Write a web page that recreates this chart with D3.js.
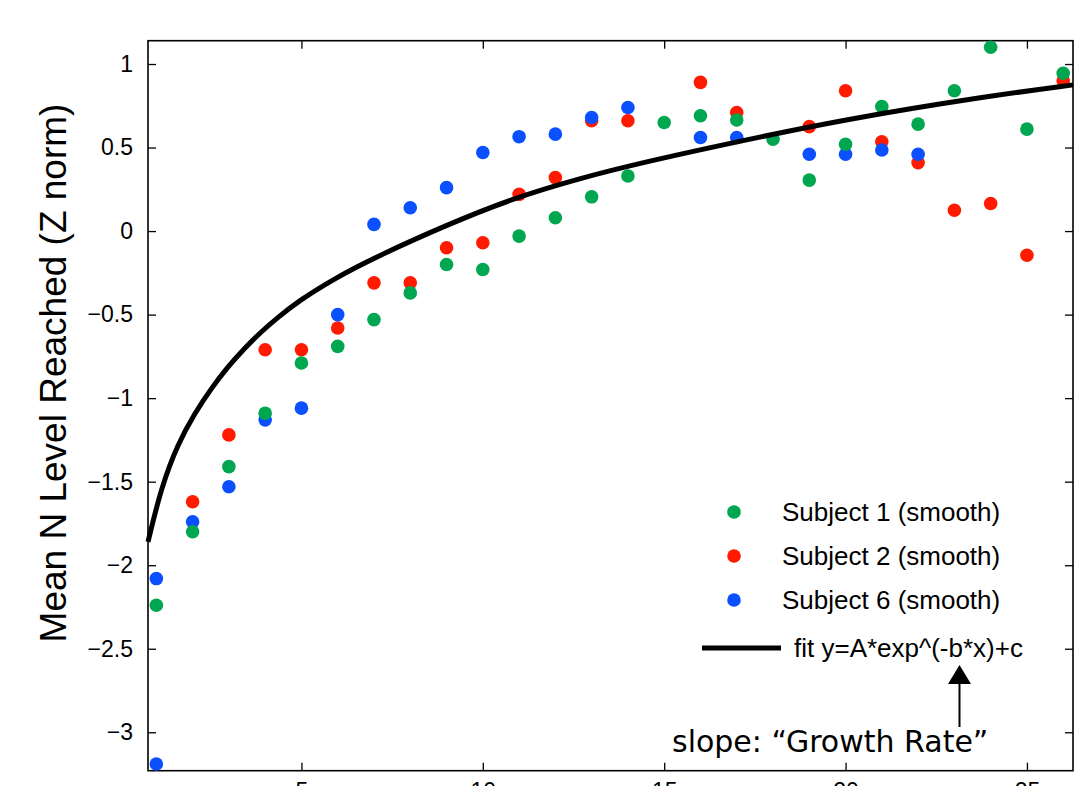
<!DOCTYPE html>
<html>
<head>
<meta charset="utf-8">
<script src="https://cdn.jsdelivr.net/npm/d3@7"></script>
<style>
  html, body { margin: 0; padding: 0; background: #fff; overflow: hidden; }
  svg { display: block; font-family: "Liberation Sans", Arial, Helvetica, sans-serif; }
</style>
</head>
<body>
<svg id="chart" width="1081" height="786"></svg>
<script>
// session number -> mean N level reached (z normalised)
var subject1 = [[1,-2.24],[2,-1.80],[3,-1.41],[4,-1.09],[5,-0.79],[6,-0.69],[7,-0.53],[8,-0.37],[9,-0.20],[10,-0.23],
    [11,-0.03],[12,0.08],[13,0.205],[14,0.33],[15,0.65],[16,0.69],[17,0.665],[18,0.55],[19,0.305],[20,0.52],
    [21,0.745],[22,0.64],[23,0.84],[24,1.10],[25,0.61],[26,0.945]];
var subject2 = [[2,-1.62],[3,-1.22],[4,-0.71],[5,-0.71],[6,-0.58],[7,-0.31],[8,-0.31],[9,-0.10],[10,-0.07],
    [11,0.22],[12,0.32],[13,0.66],[14,0.66],[16,0.89],[17,0.71],[19,0.625],[20,0.84],
    [21,0.535],[22,0.41],[23,0.125],[24,0.165],[25,-0.145],[26,0.90]];
var subject6 = [[1,-2.08],[1,-3.19],[2,-1.74],[3,-1.53],[4,-1.13],[5,-1.06],[6,-0.50],[7,0.04],[8,0.14],[9,0.26],[10,0.47],
    [11,0.565],[12,0.58],[13,0.68],[14,0.74],[16,0.56],[17,0.56],[19,0.46],[20,0.46],[21,0.485],[22,0.46]];
// the fitted curve
var fitCurve = [[0.77,-1.86],[1.14,-1.53],[1.6,-1.27],[2.06,-1.09],[2.52,-0.94],[2.98,-0.81],[3.44,-0.70],
    [3.9,-0.60],[4.36,-0.515],[4.91,-0.42],[5.9,-0.285],[6.97,-0.163],[8.99,0.036],[10.83,0.196],[12.67,0.316],
    [14.5,0.415],[16.8,0.525],[20,0.67],[24,0.81],[26.27,0.875]];

var seriesNames = ["Subject 1 (smooth)", "Subject 2 (smooth)", "Subject 6 (smooth)"];
var seriesColors = ["#00a650", "#ff1a00", "#0a50ff"];
var fitLabel = "fit y=A*exp^(-b*x)+c";
var xTicks = [5, 10, 15, 20, 25];
var yTicks = [-3, -2.5, -2, -1.5, -1, -0.5, 0, 0.5, 1];

function draw() {
    var svg = d3.select("#chart"),
        m = {"left": 148, "right": 1073, "top": 40.7, "bottom": 770.7};

    var x = d3.scaleLinear().domain([0.77, 26.27]).range([m.left, m.right]),
        y = d3.scaleLinear().domain([-3.23, 1.1395]).range([m.bottom, m.top]);

    var fmt = d3.format("~g");

    // axes, ticks pointing inward on all four sides
    svg.append("g").attr("transform", "translate(" + [0, m.bottom] + ")")
        .call(d3.axisBottom(x).tickValues(xTicks).tickSize(-8).tickPadding(12).tickFormat(fmt));
    svg.append("g").attr("transform", "translate(" + [0, m.top] + ")")
        .call(d3.axisTop(x).tickValues(xTicks).tickSize(-8).tickFormat(""));
    svg.append("g").attr("transform", "translate(" + [m.left, 0] + ")")
        .call(d3.axisLeft(y).tickValues(yTicks).tickSize(-8).tickPadding(15).tickFormat(fmt));
    svg.append("g").attr("transform", "translate(" + [m.right, 0] + ")")
        .call(d3.axisRight(y).tickValues(yTicks).tickSize(-8).tickFormat(""));

    svg.selectAll(".domain").remove();
    svg.selectAll(".tick line").attr("stroke", "#000").attr("stroke-width", 1.3);
    svg.selectAll(".tick text").attr("font-size", 23).attr("fill", "#000")
        .style("font-family", "'Liberation Sans', Arial, sans-serif");

    svg.append("rect").attr("x", m.left).attr("y", m.top)
        .attr("width", m.right - m.left).attr("height", m.bottom - m.top)
        .attr("fill", "none").attr("stroke", "#000").attr("stroke-width", 1.6);

    svg.append("text")
        .attr("transform", "translate(" + [66, 373] + ") rotate(-90)")
        .attr("text-anchor", "middle").attr("font-size", 37)
        .text("Mean N Level Reached (Z norm)");

    // dots: red, then blue, then green on top
    var plot = svg.append("g");
    [[subject2, 1], [subject6, 2], [subject1, 0]].forEach(function(s) {
        plot.selectAll(null).data(s[0]).enter().append("circle")
            .attr("cx", d => x(d[0])).attr("cy", d => y(d[1]))
            .attr("r", 6.8).attr("fill", seriesColors[s[1]]);
    });

    // basis smooths out the jitter of the hand-traced points
    plot.append("path").datum(fitCurve)
        .attr("fill", "none").attr("stroke", "#000").attr("stroke-width", 5)
        .attr("stroke-linejoin", "round")
        .attr("d", d3.line().x(d => x(d[0])).y(d => y(d[1])).curve(d3.curveBasis));

    // legend
    var legend = svg.append("g");
    seriesNames.forEach(function(name, i) {
        var ly = 512 + i * 44;
        legend.append("circle").attr("cx", 734).attr("cy", ly).attr("r", 6.8).attr("fill", seriesColors[i]);
        legend.append("text").attr("x", 782).attr("y", ly + 9).attr("font-size", 26).text(name);
    });
    legend.append("line").attr("x1", 702).attr("x2", 781).attr("y1", 648).attr("y2", 648)
        .attr("stroke", "#000").attr("stroke-width", 5);
    legend.append("text").attr("x", 794).attr("y", 657).attr("font-size", 26).text(fitLabel);

    // annotation arrow to the b parameter
    svg.append("line").attr("x1", 959.5).attr("x2", 959.5).attr("y1", 727).attr("y2", 680)
        .attr("stroke", "#000").attr("stroke-width", 2);
    svg.append("path").attr("d", "M959.5,665 L948,684 L971,684 Z").attr("fill", "#000");
    svg.append("text").attr("x", 672).attr("y", 752).attr("font-size", 30)
        .style("font-family", "'DejaVu Sans', sans-serif")
        .text("slope: \u201cGrowth Rate\u201d");
}

draw();
</script>
</body>
</html>
